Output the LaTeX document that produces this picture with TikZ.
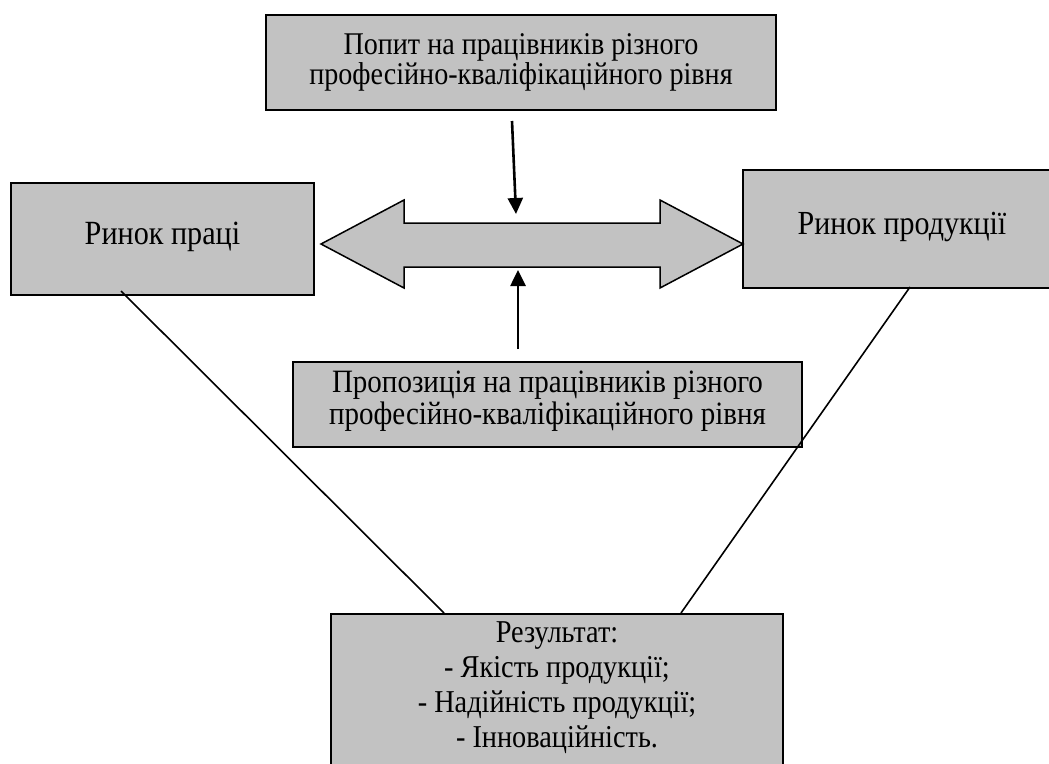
\documentclass[tikz,border=0pt]{standalone}
\usepackage{fontspec}
\setmainfont{Liberation Serif}[FakeStretch=0.89]
\usepackage{xcolor}
\usepackage{tikz}
\usetikzlibrary{arrows.meta}
\definecolor{boxgray}{RGB}{194,194,194}

\begin{document}
\begin{tikzpicture}[x=1pt,y=-1pt,>={Triangle[length=16pt,width=15pt]},
  block/.style={draw,line width=2pt,fill=boxgray,align=center,inner sep=0pt},
  link/.style={line width=1.6pt},
  flow/.style={->,line width=2.6pt}]
\useasboundingbox (0,0) rectangle (1049,763);
\clip (0,0) rectangle (1049,763);
\node[block,minimum width=510pt,minimum height=95pt,font=\fontsize{31.6}{30}\selectfont] (demand) at (521,62.5) {Попит на працівників різного\\професійно-кваліфікаційного рівня};
\node[block,minimum width=303pt,minimum height=112pt,text depth=11pt,font=\fontsize{33.9}{36}\selectfont] (labour) at (162.5,239) {Ринок праці};
\node[block,minimum width=318pt,minimum height=118pt,text depth=11pt,font=\fontsize{33.7}{36}\selectfont] (product) at (902,229) {Ринок продукції};
\node[block,minimum width=509pt,minimum height=85pt,text depth=13pt,font=\fontsize{32.6}{32}\selectfont] (supply) at (547.5,404.5) {Пропозиція на працівників різного\\професійно-кваліфікаційного рівня};
\node[block,minimum width=452pt,inner ysep=8pt,anchor=north,font=\fontsize{31.8}{35}\selectfont] (result) at (557,613) {Результат:\\- Якість продукції;\\- Надійність продукції;\\- Інноваційність.\rule[-30pt]{0pt}{0pt}};
\draw[line width=1.5pt,fill=boxgray] (321,244) -- (404,200) -- (404,223) -- (660,223) -- (660,200) -- (743,244) -- (660,288) -- (660,267) -- (404,267) -- (404,288) -- cycle;
\coordinate (intop) at (516,214);
\coordinate (inbot) at (518,270);
\draw[flow] ([xshift=-9pt,yshift=-10pt]demand.south) -- (intop);
\draw[flow] ([xshift=-29.5pt,yshift=12pt]supply.north) -- (inbot);
\draw[link] ([xshift=111pt,yshift=5pt]labour.south west) -- ([xshift=114pt]result.north west);
\draw[link] ([xshift=168pt,yshift=2pt]product.south west) -- ([xshift=351pt]result.north west);
\end{tikzpicture}
\end{document}
